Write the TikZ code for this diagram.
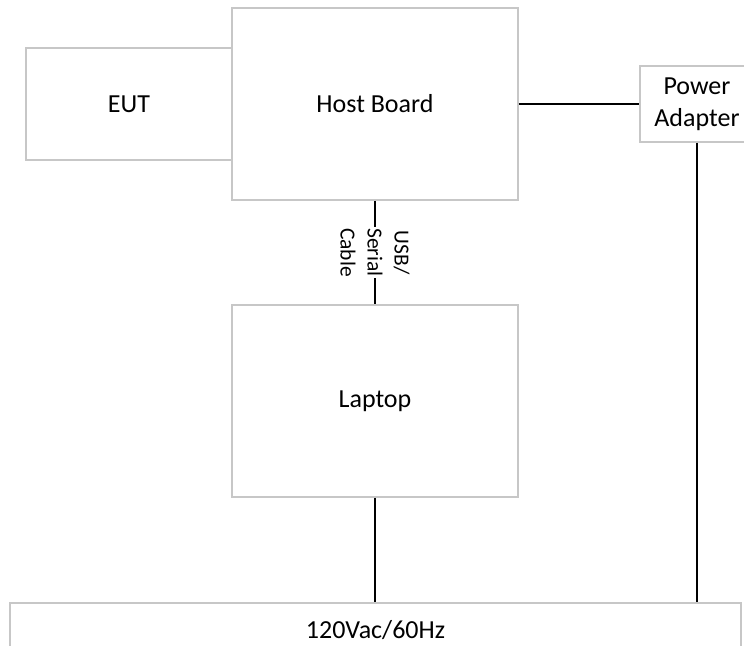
\documentclass[tikz,border=0pt]{standalone}
\usepackage{fontspec}
\setmainfont{Carlito}
\begin{document}
\begin{tikzpicture}[x=1pt,y=-1pt,
  box/.style={draw=black!22, line width=1.5pt, fill=white, inner sep=0pt,
    font=\fontsize{26}{32}\selectfont, align=center},
  wire/.style={draw=black, line width=1.3pt},
  cablelbl/.style={rotate=-90, fill=white, inner sep=1.5pt, align=center,
    font=\fontsize{21.5}{27}\selectfont}]
\useasboundingbox (0,0) rectangle (744,645);
\begin{scope}
\clip (0,0) rectangle (744,645);
\node[box, minimum width=206pt, minimum height=112pt] (eut) at (129,104) {EUT};
\node[box, minimum width=286pt, minimum height=192pt] (host) at (375,104) {Host Board};
\node[box, minimum width=114pt, minimum height=76pt] (power) at (697,104) {Power\\Adapter};
\node[box, minimum width=286pt, minimum height=192pt] (laptop) at (375,401) {Laptop};
\node[box, minimum width=731pt, minimum height=54pt] (mains) at (375.5,630) {120Vac/60Hz};
\draw[wire] (host.east) -- (power.west);
\draw[wire] (host.south) -- (laptop.north)
  node[midway, cablelbl] (usb) {USB/\\Serial\\Cable};
\draw[wire] (laptop.south) -- (laptop.south |- mains.north);
\draw[wire] (power.south) -- (power.south |- mains.north);
\end{scope}
\end{tikzpicture}
\end{document}
